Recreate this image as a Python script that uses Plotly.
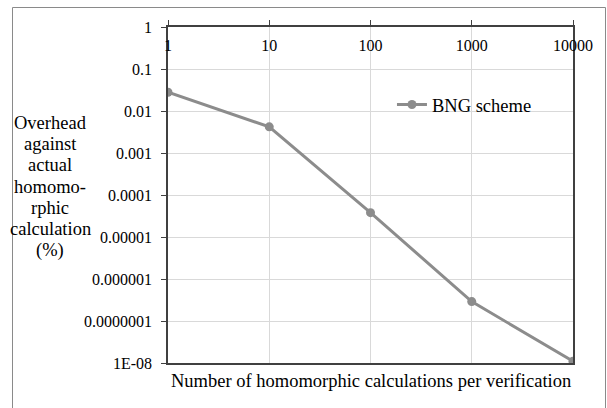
import plotly.graph_objects as go

calculations = [1, 10, 100, 1000, 10000]
overhead_pct = [0.028, 0.0042, 0.000038, 0.00000029, 0.000000011]
x_tick_vals = [1, 10, 100, 1000, 10000]
x_tick_text = ["1", "10", "100", "1000", "10000"]
y_tick_vals = [1, 0.1, 0.01, 0.001, 0.0001, 0.00001, 0.000001, 0.0000001, 0.00000001]
y_tick_text = ["1", "0.1", "0.01", "0.001", "0.0001", "0.00001", "0.000001", "0.0000001", "1E-08"]
series_name = "BNG scheme"
x_title = "Number of homomorphic calculations per verification"
y_title_lines = ["Overhead", "against", "actual", "homomo-", "rphic", "calculation", "(%)"]

FONT = "Liberation Serif, Times New Roman, serif"
L, R, T, B = 168, 34, 27, 45
W, H = 607, 408
pw, ph = W - L - R, H - T - B
TITLE_SIZE = 18.5

fig = go.Figure()
fig.add_trace(go.Scatter(
    x=calculations, y=overhead_pct, mode="lines+markers", name=series_name,
    line=dict(color="#8c8c8c", width=3), marker=dict(color="#8c8c8c", size=9),
))
# invisible copy on the label axis so that it is drawn
fig.add_trace(go.Scatter(
    x=calculations, y=overhead_pct, mode="lines", xaxis="x2", showlegend=False,
    hoverinfo="skip", line=dict(color="rgba(0,0,0,0)", width=0),
))

fig.update_layout(
    width=W, height=H, margin=dict(l=L, r=R, t=T, b=B),
    paper_bgcolor="white", plot_bgcolor="white",
    font=dict(family=FONT, size=16, color="black"),
    showlegend=True,
    legend=dict(x=0.553, y=0.768, xanchor="left", yanchor="middle",
                bgcolor="rgba(0,0,0,0)", font=dict(size=TITLE_SIZE)),
    xaxis=dict(type="log", range=[0, 4], side="top", tickvals=x_tick_vals,
               showticklabels=False,
               ticks="outside", ticklen=5, tickcolor="#404040",
               showline=True, linecolor="#404040", linewidth=1.5, mirror=True,
               showgrid=True, gridcolor="#d9d9d9", gridwidth=1, zeroline=False),
    xaxis2=dict(type="log", range=[0, 4], overlaying="x", anchor="free", position=1,
                side="bottom", tickvals=x_tick_vals, ticktext=x_tick_text,
                ticks="", showline=False, showgrid=False, zeroline=False,
                ticklabelstandoff=7, tickfont=dict(size=16)),
    yaxis=dict(type="log", range=[-8, 0], tickvals=y_tick_vals, ticktext=y_tick_text,
               ticks="outside", ticklen=5, tickcolor="#404040", ticklabelstandoff=6,
               showline=True, linecolor="#404040", linewidth=1.5, mirror=True,
               showgrid=True, gridcolor="#d9d9d9", gridwidth=1, zeroline=False),
)

fig.add_annotation(text=x_title,
                   xref="paper", yref="paper", x=0.5, y=(363 - 381) / ph,
                   xanchor="center", yanchor="middle", showarrow=False,
                   font=dict(size=TITLE_SIZE))
line_gap = 21.2
first_y = 123
for i, line in enumerate(y_title_lines):
    fig.add_annotation(text=line, xref="paper", yref="paper",
                       x=(50 - L) / pw, y=(363 - (first_y + i * line_gap)) / ph,
                       xanchor="center", yanchor="middle", showarrow=False,
                       font=dict(size=TITLE_SIZE))
# chart-area frame (left, top, right edges)
fx0, fx1, fy1, fy0 = (12.5 - L) / pw, (605.5 - L) / pw, (363 - 7.5) / ph, (363 - 420) / ph
fig.add_shape(type="path", xref="paper", yref="paper",
              path=f"M {fx0} {fy0} L {fx0} {fy1} L {fx1} {fy1} L {fx1} {fy0}",
              line=dict(color="#8a8a8a", width=1), layer="above")

fig.write_html("out.html", config={"displayModeBar": False},
               post_script="document.body.style.margin='0';"
                           "document.body.style.overflow='hidden';"
                           "document.documentElement.style.overflow='hidden';")
